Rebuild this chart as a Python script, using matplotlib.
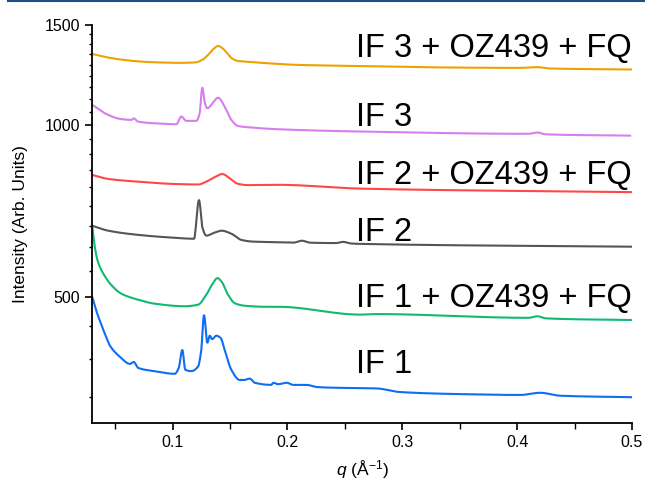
# SAXS profiles, stacked, log intensity axis
import numpy as np
import matplotlib
matplotlib.use("Agg")
import matplotlib.pyplot as plt
from matplotlib.ticker import FixedLocator, MultipleLocator, FuncFormatter, NullFormatter
from matplotlib.lines import Line2D

plt.rcParams['font.family'] = ['Liberation Sans', 'DejaVu Sans']
plt.rcParams['mathtext.fontset'] = 'custom'
plt.rcParams['mathtext.rm'] = 'Liberation Sans'
plt.rcParams['mathtext.it'] = 'Liberation Sans:italic'

# data (q in 1/A, intensity in arb. units)
q_if3fq = [0.030, 0.0411, 0.0541, 0.0715, 0.0890, 0.1064, 0.1195, 0.1256, 0.1308, 0.1351,
           0.1395, 0.1430, 0.1473, 0.1517, 0.1569, 0.1674, 0.1848, 0.2109, 0.2632, 0.3416,
           0.4026, 0.4174, 0.4287, 0.500]
i_if3fq = [1334, 1318, 1305, 1294, 1289, 1287, 1289, 1302, 1329, 1359,
           1378, 1367, 1340, 1310, 1297, 1292, 1284, 1276, 1271, 1263,
           1261, 1265, 1258, 1253]

q_if3 = [0.030, 0.0437, 0.0553, 0.0640, 0.0661, 0.0698, 0.0844, 0.1032, 0.1075, 0.1119,
         0.1206, 0.1235, 0.1258, 0.1280, 0.1302, 0.1350, 0.1395, 0.1453, 0.1511, 0.1569,
         0.1656, 0.1918, 0.2632, 0.4100, 0.4174, 0.4250, 0.4984]
i_if3 = [1086, 1043, 1025, 1022, 1028, 1015, 1008, 1004, 1036, 1018,
         1018, 1050, 1164, 1095, 1071, 1095, 1118, 1078, 1022, 997,
         992, 984, 975, 966, 971, 964, 959]

q_if2fq = [0.030, 0.0437, 0.0698, 0.0988, 0.1221, 0.1293, 0.1366, 0.1432, 0.1497, 0.1569,
           0.1656, 0.1918, 0.2632, 0.500]
i_if2fq = [818, 805, 796, 789, 787, 796, 811, 821, 807, 789,
           785, 786, 774, 763]

q_if2 = [0.030, 0.0437, 0.0698, 0.0988, 0.1186, 0.1229, 0.1260, 0.1293, 0.1366, 0.1424,
         0.1511, 0.1598, 0.1685, 0.1918, 0.2050, 0.2124, 0.2200, 0.2420, 0.2484, 0.2550,
         0.2632, 0.500]
i_if2 = [666, 653, 642, 635, 632, 739, 660, 640, 648, 653,
         645, 629, 625, 623, 622, 627, 622, 621, 624, 620,
         619, 612]

q_if1fq = [0.030, 0.0321, 0.0350, 0.0393, 0.0466, 0.0553, 0.0698, 0.0844, 0.1105, 0.1221,
           0.1293, 0.1351, 0.1389, 0.1424, 0.1482, 0.1540, 0.1627, 0.1802, 0.1918, 0.2632,
           0.2777, 0.4100, 0.4174, 0.4250, 0.500]
i_if1fq = [664, 612, 575, 550, 524, 506, 494, 486, 481, 484,
           504, 528, 539, 532, 504, 487, 482, 480, 480, 465,
           466, 459, 462, 458, 455]

q_if1 = [0.030, 0.0332, 0.0367, 0.0410, 0.0454, 0.0541, 0.0628, 0.0661, 0.0698, 0.0844,
         0.1018, 0.1053, 0.1084, 0.1110, 0.1162, 0.1221, 0.1249, 0.1273, 0.1302, 0.1323,
         0.1343, 0.1380, 0.1418, 0.1453, 0.1511, 0.1584, 0.1622, 0.1671, 0.1715, 0.1859,
         0.1877, 0.1918, 0.1993, 0.2050, 0.2168, 0.2250, 0.2399, 0.2777, 0.2980, 0.3561,
         0.4026, 0.4200, 0.4374, 0.500]
i_if1 = [499, 474, 453, 430, 410, 392, 381, 384, 375, 370,
         366, 375, 403, 372, 370, 377, 403, 464, 415, 427,
         421, 427, 423, 403, 372, 357, 357, 359, 353, 350,
         353, 351, 353, 350, 350, 347, 346, 345, 340, 337,
         336, 339, 335, 333]

labels = ['IF 3 + OZ439 + FQ', 'IF 3', 'IF 2 + OZ439 + FQ', 'IF 2', 'IF 1 + OZ439 + FQ', 'IF 1']
label_y = [1320, 995, 789, 625, 480, 367]
colors = ['#EDA200', '#D67EEE', '#FF4747', '#555555', '#10BA72', '#0D6EF2']
series = [(q_if3fq, i_if3fq), (q_if3, i_if3), (q_if2fq, i_if2fq),
          (q_if2, i_if2), (q_if1fq, i_if1fq), (q_if1, i_if1)]


def pchip(x, y, xn):
    # monotone cubic, just to get smooth lines between the read points
    x = np.asarray(x, float)
    y = np.asarray(y, float)
    h = np.diff(x)
    d = np.diff(y) / h
    m = np.zeros_like(y)
    m[0], m[-1] = d[0], d[-1]
    for k in range(1, len(x) - 1):
        if d[k - 1] * d[k] > 0:
            w1 = 2 * h[k] + h[k - 1]
            w2 = h[k] + 2 * h[k - 1]
            m[k] = (w1 + w2) / (w1 / d[k - 1] + w2 / d[k])
    idx = np.clip(np.searchsorted(x, xn) - 1, 0, len(x) - 2)
    t = (xn - x[idx]) / h[idx]
    h00 = 2 * t**3 - 3 * t**2 + 1
    h10 = t**3 - 2 * t**2 + t
    h01 = -2 * t**3 + 3 * t**2
    h11 = t**3 - t**2
    return h00 * y[idx] + h10 * h[idx] * m[idx] + h01 * y[idx + 1] + h11 * h[idx] * m[idx + 1]


fig = plt.figure(figsize=(6.45, 4.88), dpi=100)
ax = fig.add_axes([0.1431, 0.1332, 0.8367, 0.8156])

for (q, inten), col, lab, ytxt in zip(series, colors, labels, label_y):
    qq = np.linspace(q[0], q[-1], 1500)
    ax.plot(qq, pchip(q, inten, qq), color=col, lw=1.5)
    ax.text(0.2597, ytxt, lab, fontsize=23.5, va='baseline', ha='left', color='black')

ax.set_yscale('log')
ax.set_xlim(0.03, 0.5)
ax.set_ylim(300, 1500)

ax.yaxis.set_major_locator(FixedLocator([500, 1000, 1500]))
ax.yaxis.set_major_formatter(FuncFormatter(lambda v, p: '%d' % round(v)))
minors = [500 + k * 500 / 9 for k in range(-3, 19) if k % 9 != 0]
ax.yaxis.set_minor_locator(FixedLocator(minors))
ax.yaxis.set_minor_formatter(NullFormatter())

ax.xaxis.set_major_locator(MultipleLocator(0.1))
ax.xaxis.set_minor_locator(MultipleLocator(0.05))
ax.xaxis.set_major_formatter(FuncFormatter(lambda v, p: '%g' % round(v, 2)))

for s in ['top', 'right']:
    ax.spines[s].set_visible(False)
for s in ['left', 'bottom']:
    ax.spines[s].set_linewidth(1.3)

ax.tick_params(axis='both', which='major', direction='out', length=5, width=1.2,
               labelsize=11.5, pad=4)
ax.tick_params(axis='y', which='minor', direction='out', length=2.5, width=1.0)
ax.tick_params(axis='x', which='minor', direction='out', length=4, width=1.0)

ax.set_ylabel('Intensity (Arb. Units)', fontsize=12.5, labelpad=12)
ax.set_xlabel(r'$q$ (Å$^{-1}$)', fontsize=12.5, labelpad=6)

# journal header rule at top of the image
fig.add_artist(Line2D([0.012, 1.0], [0.998, 0.998], transform=fig.transFigure,
                      color='#1B4F8A', lw=1.5))

fig.savefig('out.png', dpi=100)
